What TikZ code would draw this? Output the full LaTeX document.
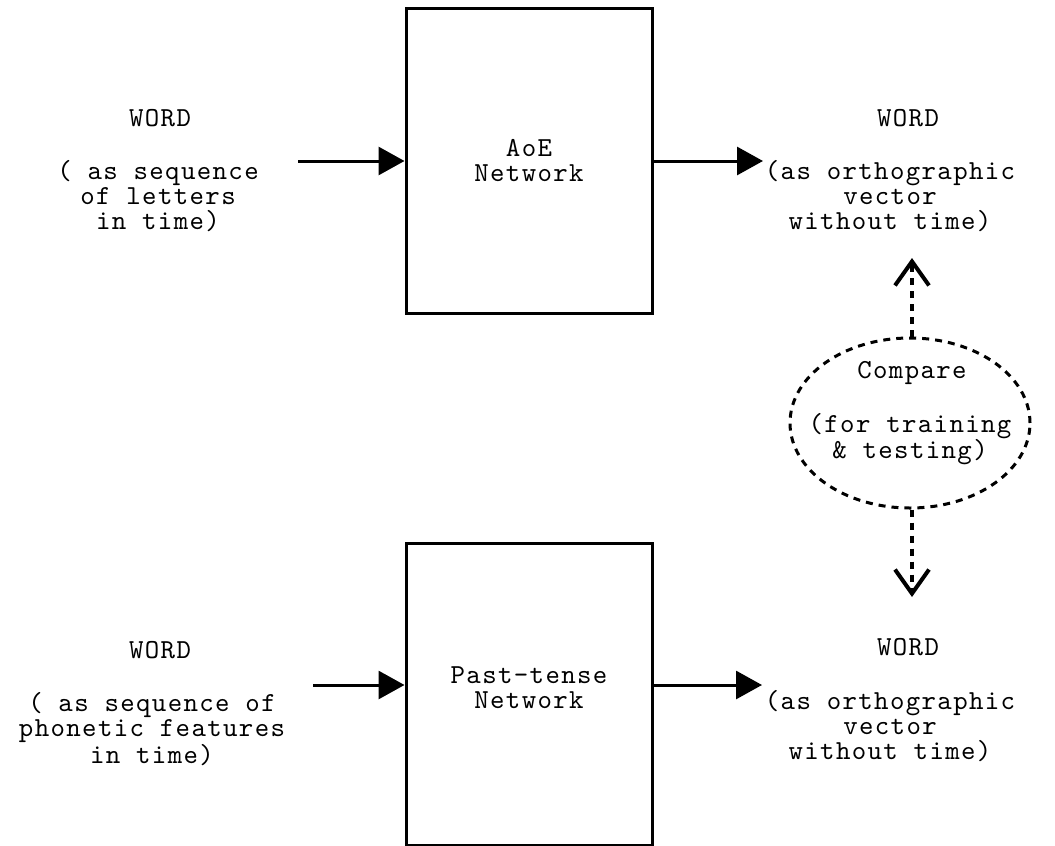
\documentclass[tikz,border=0pt]{standalone}
\usepackage{fontspec}
\usetikzlibrary{arrows.meta,shapes.geometric}
\newfontfamily\monolabel{lmmono10-regular}[Extension=.otf, LetterSpace=5]
\newcommand\labelfont{\monolabel\fontsize{27.5}{25}\selectfont}
\tikzset{
  txt/.style={font=\labelfont, align=center, inner sep=0pt},
  netbox/.style={draw, line width=3pt, minimum width=246pt, inner sep=0pt},
  arr/.style={line width=3pt, -{Triangle[length=26pt,width=28pt]}},
  cmpshape/.style={ellipse, draw, line width=3pt, dash pattern=on 7pt off 6pt,
    minimum width=240pt, minimum height=170pt, inner sep=0pt},
  darr/.style={line width=4.5pt, dash pattern=on 7pt off 6pt,
    -{Straight Barb[length=24pt,width=34pt,line width=4pt]}}
}
\begin{document}
\begin{tikzpicture}[x=1pt,y=-1pt]
\useasboundingbox (0,0) rectangle (1055,846);

% networks
\node[netbox, minimum height=305pt] (aoe) at (529,160.5) {};
\node[txt] (aoelbl) at (529,161) {AoE\\Network};
\node[netbox, minimum height=302pt] (pt) at (529,694) {};
\node[txt] (ptlbl) at (529,688) {Past-tense\\Network};

% inputs
\node[txt] (in1w) at (160,118) {WORD};
\node[txt] (in1) at (158,196) {( as sequence\\of letters\\in time)};
\node[txt] (in2w) at (160,650) {WORD};
\node[txt] (in2) at (152,729) {( as sequence of\\phonetic features\\in time)};

% outputs
\node[txt] (out1w) at (908,118) {WORD};
\node[txt] (out1) at (890,196) {(as orthographic\\vector\\without time)};
\node[txt] (out2w) at (908,647) {WORD};
\node[txt] (out2) at (890,726) {(as orthographic\\vector\\without time)};

% comparison
\node[cmpshape] (cmp) at (910,423) {};
\node[txt] (cmpt) at (912,373) {Compare};
\node[txt] (cmpd) at (910,439) {(for training\\\& testing)};

% connectors
\coordinate (s1) at (298,161);
\coordinate (e1) at (763,161);
\coordinate (s2) at (313,685);
\coordinate (e2) at (762,685);
\draw[arr] (s1) -- (aoe.west |- s1);
\draw[arr] (aoe.east |- e1) -- (e1);
\draw[arr] (s2) -- (pt.west |- s2);
\draw[arr] (pt.east |- e2) -- (e2);

\coordinate (up) at (912,258);
\coordinate (dn) at (912,597);
\draw[darr] (cmp.north -| up) -- (up);
\draw[darr] (cmp.south -| dn) -- (dn);
\end{tikzpicture}
\end{document}
